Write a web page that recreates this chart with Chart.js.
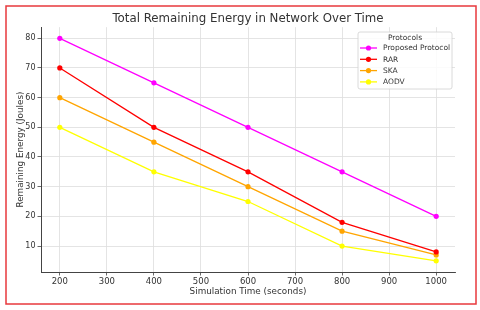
<!DOCTYPE html>
<html>
<head>
<meta charset="utf-8">
<script src="https://cdn.jsdelivr.net/npm/chart.js@4"></script>
<style>
    body { margin: 0; background: #fff; }
    #wrap { width: 480px; height: 310px; }
</style>
</head>
<body>
<div id="wrap"><canvas id="energyChart" width="480" height="310"></canvas></div>
<script>
let times = [200, 400, 600, 800, 1000];
let proposed = [80, 65, 50, 35, 20];
let rar = [70, 50, 35, 18, 8];
let ska = [60, 45, 30, 15, 7];
let aodv = [50, 35, 25, 10, 5];
let xTicks = [200, 300, 400, 500, 600, 700, 800, 900, 1000];
let yTicks = [10, 20, 30, 40, 50, 60, 70, 80];

let seriesNames = ["Proposed Protocol", "RAR", "SKA", "AODV"];
let seriesColors = ["#ff00ff", "#ff0000", "#ffa500", "#ffff00"];
let seriesValues = [proposed, rar, ska, aodv];

let font = "'DejaVu Sans', sans-serif";

function makeSet(i) {
    return {
        label: seriesNames[i],
        data: times.map((t, k) => ({x: t, y: seriesValues[i][k]})),
        borderColor: seriesColors[i],
        backgroundColor: seriesColors[i],
        borderWidth: 1.3,
        pointRadius: 2.6,
        pointHoverRadius: 2.6,
        pointBorderWidth: 0,
        tension: 0
    };
}

/**
 * frame + legend box
 **/
let framePlugin = {
    id: "frame",
    beforeDraw(chart) {
        let c = chart.ctx;
        c.save();
        c.fillStyle = "#fff";
        c.fillRect(0, 0, chart.width, chart.height);
        c.restore();
    },
    afterDraw(chart) {
        let c = chart.ctx;
        c.save();
        c.strokeStyle = "#e8383d";
        c.lineWidth = 1.5;
        c.strokeRect(6, 6, 470, 298);

        // legend
        let bx = 358, by = 32, bw = 94, bh = 57;
        c.fillStyle = "rgba(255,255,255,0.85)";
        c.strokeStyle = "#d0d0d0";
        c.lineWidth = 0.8;
        c.beginPath();
        c.roundRect(bx, by, bw, bh, 2);
        c.fill();
        c.stroke();

        c.fillStyle = "#333";
        c.font = "7.5px " + font;
        c.textAlign = "center";
        c.textBaseline = "middle";
        c.fillText("Protocols", bx + bw / 2, by + 6);

        c.textAlign = "left";
        for (let i = 0; i < seriesNames.length; i++) {
            let y = by + 16 + i * 11.3;
            c.strokeStyle = seriesColors[i];
            c.lineWidth = 1.3;
            c.beginPath();
            c.moveTo(bx + 2, y);
            c.lineTo(bx + 19, y);
            c.stroke();
            c.fillStyle = seriesColors[i];
            c.beginPath();
            c.arc(bx + 10.5, y, 2.6, 0, Math.PI * 2);
            c.fill();
            c.fillStyle = "#333";
            c.fillText(seriesNames[i], bx + 25, y + 0.5);
        }
        c.restore();
    }
};

new Chart(document.querySelector("#energyChart"), {
    type: "line",
    data: {
        datasets: [makeSet(0), makeSet(1), makeSet(2), makeSet(3)]
    },
    options: {
        responsive: false,
        animation: false,
        layout: {
            padding: {left: 12, right: 25, top: 0, bottom: 9}
        },
        plugins: {
            legend: {display: false},
            tooltip: {enabled: false},
            title: {
                display: true,
                fullSize: false,
                text: "Total Remaining Energy in Network Over Time",
                color: "#333",
                font: {family: font, size: 11.8, weight: "normal"},
                padding: {top: 11.5, bottom: 1.5}
            }
        },
        scales: {
            x: {
                type: "linear",
                min: 160,
                max: 1040,
                afterBuildTicks: (scale) => {
                    scale.ticks = xTicks.map(v => ({value: v}));
                },
                afterFit: (scale) => {
                    scale.height = 29;
                },
                ticks: {
                    color: "#333",
                    font: {family: font, size: 8.5},
                    padding: 1,
                    maxRotation: 0,
                    autoSkip: false,
                    callback: (v) => String(v)
                },
                grid: {
                    color: "#dddddd",
                    lineWidth: 0.8,
                    borderDash: [2, 2],
                    tickColor: "#444",
                    tickLength: 3.5,
                    tickWidth: 0.8,
                    tickBorderDash: []
                },
                border: {display: true, color: "#444", width: 1},
                title: {
                    display: true,
                    text: "Simulation Time (seconds)",
                    color: "#333",
                    font: {family: font, size: 8.8},
                    padding: {top: 0, bottom: 4}
                }
            },
            y: {
                type: "linear",
                min: 1.25,
                max: 83.75,
                afterBuildTicks: (scale) => {
                    scale.ticks = yTicks.map(v => ({value: v}));
                },
                afterFit: (scale) => {
                    scale.width = 29;
                },
                ticks: {
                    color: "#333",
                    font: {family: font, size: 8},
                    padding: 2,
                    callback: (v) => String(v)
                },
                grid: {
                    color: "#dddddd",
                    lineWidth: 0.8,
                    borderDash: [2, 2],
                    tickColor: "#444",
                    tickLength: 3.5,
                    tickWidth: 0.8,
                    tickBorderDash: []
                },
                border: {display: true, color: "#444", width: 1},
                title: {
                    display: true,
                    text: "Remaining Energy (Joules)",
                    color: "#333",
                    font: {family: font, size: 8.8},
                    padding: {top: 3, bottom: 0}
                }
            }
        }
    },
    plugins: [framePlugin]
});
</script>
</body>
</html>
